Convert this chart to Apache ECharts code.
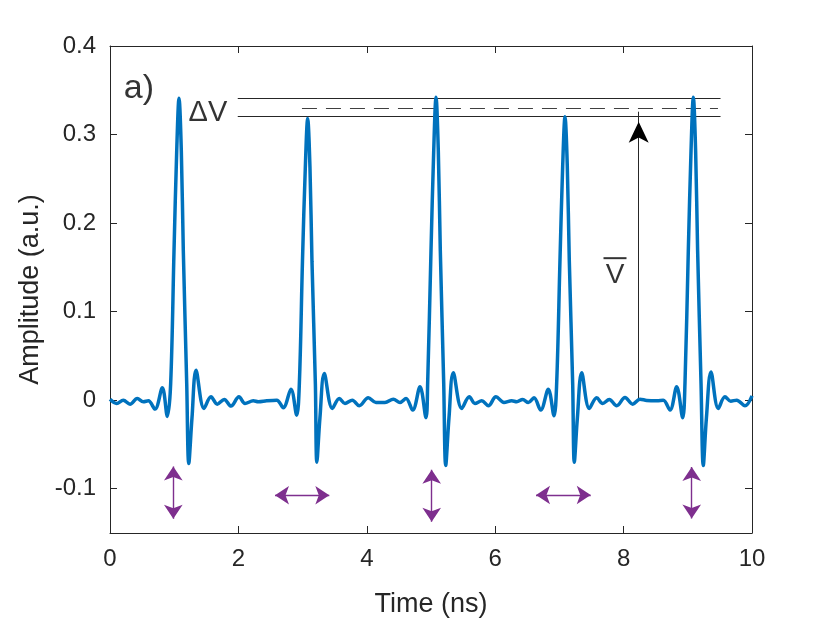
<!DOCTYPE html>
<html>
<head>
<meta charset="utf-8">
<script src="https://cdn.jsdelivr.net/npm/echarts@6/dist/echarts.min.js"></script>
<style>
html, body { margin: 0; padding: 0; background: #fff; }
#chart { width: 830px; height: 623px; }
</style>
</head>
<body>
<div id="chart"></div>
<script>
// pulse train
var timeNs = [
    0.000, 0.104, 0.207, 0.312, 0.425, 0.519, 0.597, 0.701, 0.815, 0.893,
    0.945, 0.997, 1.039, 1.075, 1.111, 1.142, 1.195, 1.227, 1.277, 1.340,
    1.464, 1.573, 1.671, 1.780, 1.885, 2.009, 2.103, 2.232, 2.310, 2.441,
    2.597, 2.699, 2.819, 2.908, 2.949, 2.998, 3.042, 3.079, 3.115, 3.146,
    3.199, 3.222, 3.270, 3.338, 3.463, 3.572, 3.660, 3.774, 3.883, 4.023,
    4.143, 4.283, 4.413, 4.517, 4.611, 4.715, 4.829, 4.922, 4.948, 5.000,
    5.042, 5.078, 5.114, 5.145, 5.198, 5.229, 5.280, 5.347, 5.478, 5.597,
    5.685, 5.790, 5.893, 6.012, 6.137, 6.257, 6.335, 6.428, 6.516, 6.604,
    6.709, 6.827, 6.916, 6.957, 7.009, 7.051, 7.087, 7.123, 7.154, 7.207,
    7.232, 7.280, 7.347, 7.466, 7.581, 7.674, 7.777, 7.893, 8.022, 8.142,
    8.255, 8.360, 8.516, 8.618, 8.723, 8.827, 8.921, 8.956, 9.008, 9.050,
    9.086, 9.122, 9.153, 9.206, 9.241, 9.290, 9.361, 9.475, 9.579, 9.668,
    9.762, 9.891, 10.000
];
var amplitude = [
    0.0010, -0.0037, 0.0000, -0.0045, 0.0019, -0.0018, -0.0007, -0.0101, 0.0139, -0.0183,
    0.0188, 0.1685, 0.2810, 0.3410, 0.2810, 0.1685, 0.0188, -0.0715, -0.0200, 0.0337,
    -0.0093, 0.0038, -0.0045, 0.0008, -0.0067, 0.0038, -0.0037, -0.0007, -0.0018, -0.0007,
    0.0000, -0.0085, 0.0124, -0.0169, 0.0180, 0.1570, 0.2620, 0.3180, 0.2620, 0.1570,
    0.0180, -0.0700, -0.0200, 0.0300, -0.0093, 0.0019, -0.0037, 0.0000, -0.0063, 0.0027,
    -0.0026, -0.0026, 0.0011, -0.0026, 0.0019, -0.0112, 0.0151, -0.0198, 0.0190, 0.1690,
    0.2810, 0.3420, 0.2810, 0.1690, 0.0190, -0.0737, -0.0200, 0.0311, -0.0093, 0.0038,
    -0.0037, -0.0007, -0.0063, 0.0038, -0.0026, -0.0007, -0.0018, 0.0008, -0.0026, 0.0027,
    -0.0112, 0.0124, -0.0175, 0.0180, 0.1580, 0.2640, 0.3200, 0.2640, 0.1580, 0.0180,
    -0.0700, -0.0200, 0.0311, -0.0093, 0.0027, -0.0037, 0.0008, -0.0063, 0.0030, -0.0045,
    0.0011, -0.0003, -0.0007, 0.0000, -0.0112, 0.0151, -0.0198, 0.0190, 0.1690, 0.2810,
    0.3420, 0.2810, 0.1690, 0.0190, -0.0737, -0.0200, 0.0319, -0.0093, 0.0038, -0.0011,
    0.0000, -0.0063, 0.0049
];

var yTicks = [-0.1, 0, 0.1, 0.2, 0.3, 0.4];

// delta V band: max / mean / min peak level and their horizontal extent
var levelMax = 0.3409;
var levelMean = 0.3300;
var levelMin = 0.3207;
var levelFrom = 1.99, levelTo = 9.51;
var meanFrom = 2.99, meanTo = 9.47;

// mean amplitude arrow
var meanArrowT = 8.235;
var meanArrowTip = 0.3258;

// purple jitter arrows: [t, top, bottom] and [from, to, level]
var ampArrows = [[0.986, -0.0748, -0.134], [5.011, -0.0787, -0.1374], [9.061, -0.0756, -0.1337]];
var timeArrows = [[2.570, 3.416, -0.1074], [6.636, 7.488, -0.1071]];

// text annotations [t, v, text]
var panelLabel = [0.45, 0.352, 'a)'];
var deltaLabel = [1.526, 0.3244, 'ΔV'];
var meanLabel = [7.866, 0.1457];

var axisColor = '#262626';
var font = 'Liberation Sans, Arial, Helvetica, sans-serif';
var purple = '#7E2F8E';

var wave = timeNs.map(function (t, i) { return [t, amplitude[i]]; });

var vArrowData = ampArrows.map(function (a) {
    return { coords: [[a[0], a[1]], [a[0], a[2]]] };
});
var hArrowData = timeArrows.map(function (a) {
    return { coords: [[a[0], a[2]], [a[1], a[2]]] };
});

var xCommon = {
    type: 'value', min: 0, max: 10, interval: 2,
    axisLine: { onZero: false, lineStyle: { color: axisColor, width: 1 } },
    axisTick: { inside: true, length: 7, lineStyle: { color: axisColor } },
    splitLine: { show: false }
};
var yCommon = {
    type: 'value', min: -0.15, max: 0.4,
    axisLine: { onZero: false, lineStyle: { color: axisColor, width: 1 } },
    axisTick: { inside: true, length: 7, customValues: yTicks, lineStyle: { color: axisColor } },
    splitLine: { show: false }
};

var option = {
    animation: false,
    backgroundColor: '#fff',
    grid: { left: 110, right: 78, top: 46, bottom: 88 },
    xAxis: [
        Object.assign({}, xCommon, {
            position: 'bottom',
            name: 'Time (ns)',
            nameLocation: 'middle',
            nameGap: 58,
            nameTextStyle: { color: axisColor, fontSize: 27, fontFamily: font },
            axisLabel: { color: axisColor, fontSize: 24, fontFamily: font, margin: 14 }
        }),
        Object.assign({}, xCommon, { position: 'top', axisLabel: { show: false } })
    ],
    yAxis: [
        Object.assign({}, yCommon, {
            position: 'left',
            name: 'Amplitude (a.u.)',
            nameLocation: 'middle',
            nameGap: 66,
            nameTextStyle: { color: axisColor, fontSize: 27, fontFamily: font },
            axisLabel: { color: axisColor, fontSize: 24, fontFamily: font, margin: 14, customValues: yTicks }
        }),
        Object.assign({}, yCommon, { position: 'right', axisLabel: { show: false } })
    ],
    series: [
        {
            type: 'line',
            data: wave,
            smooth: 0.35,
            showSymbol: false,
            symbol: 'none',
            lineStyle: { color: '#0072BD', width: 3.5 },
            z: 3
        },
        {
            type: 'lines',
            coordinateSystem: 'cartesian2d',
            symbol: 'none',
            lineStyle: { color: axisColor, width: 1, opacity: 1 },
            data: [
                { coords: [[levelFrom, levelMax], [levelTo, levelMax]] },
                { coords: [[levelFrom, levelMin], [levelTo, levelMin]] },
                { coords: [[meanArrowT, 0], [meanArrowT, meanArrowTip]] }
            ],
            z: 2
        },
        {
            type: 'lines',
            coordinateSystem: 'cartesian2d',
            symbol: 'none',
            lineStyle: { color: '#404040', width: 1, type: [15, 9], opacity: 1 },
            data: [{ coords: [[meanFrom, levelMean], [meanTo, levelMean]] }],
            z: 2
        },
        {
            type: 'lines',
            coordinateSystem: 'cartesian2d',
            symbol: ['arrow', 'arrow'],
            symbolSize: 14,
            lineStyle: { color: purple, width: 1.4, opacity: 1 },
            itemStyle: { color: purple },
            data: vArrowData.concat(hArrowData),
            z: 4
        },
        {
            // arrow head of the mean arrow
            type: 'scatter',
            data: [[meanArrowT, meanArrowTip]],
            symbol: 'arrow',
            symbolSize: [15, 21],
            symbolOffset: [0, 10],
            itemStyle: { color: '#000', opacity: 1 },
            silent: true,
            z: 5
        },
        {
            type: 'scatter',
            symbolSize: 1,
            itemStyle: { color: 'rgba(0,0,0,0)' },
            silent: true,
            label: {
                show: true,
                position: 'inside',
                color: '#000',
                fontFamily: font,
                formatter: function (p) { return p.value[2]; }
            },
            data: [
                { value: panelLabel, label: { fontSize: 34 } },
                { value: deltaLabel, label: { fontSize: 29 } }
            ],
            z: 6
        },
        {
            type: 'scatter',
            symbolSize: 1,
            itemStyle: { color: 'rgba(0,0,0,0)' },
            silent: true,
            label: {
                show: true,
                position: 'inside',
                formatter: '{o|}\n{v|V}',
                rich: {
                    o: { width: 23, height: 2, lineHeight: 8, backgroundColor: '#000' },
                    v: { fontSize: 28, lineHeight: 26, color: '#000', fontFamily: font, align: 'center' }
                }
            },
            data: [meanLabel],
            z: 6
        }
    ]
};

var myChart = echarts.init(document.getElementById('chart'));
myChart.setOption(option);
</script>
</body>
</html>
